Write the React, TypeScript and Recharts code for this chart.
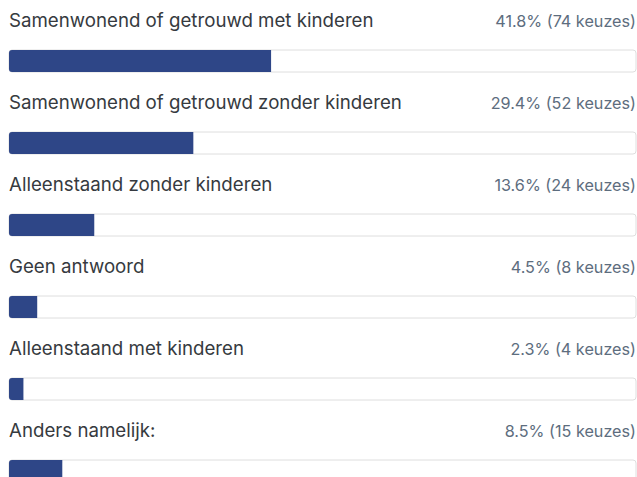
import React from 'react';
import { BarChart, Bar, XAxis, YAxis, LabelList } from 'recharts';

const categories = [
  'Samenwonend of getrouwd met kinderen',
  'Samenwonend of getrouwd zonder kinderen',
  'Alleenstaand zonder kinderen',
  'Geen antwoord',
  'Alleenstaand met kinderen',
  'Anders namelijk:',
];
const percentages = [41.8, 29.4, 13.6, 4.5, 2.3, 8.5];
const counts = [74, 52, 24, 8, 4, 15];

const chartData = categories.map((name, i) => ({
  name,
  pct: percentages[i],
  count: counts[i],
}));

const CHART_W = 637;
const CHART_H = 512;
const margin = { top: 20, right: 1, left: 9, bottom: 0 };
const FONT = 'Inter, "Open Sans", sans-serif';

const RowLabels = (props: any) => {
  const { x, y, index } = props;
  const row = chartData[index];
  const right = CHART_W - margin.right;
  return (
    <g>
      <text x={x} y={y - 23} fill="#363a40" fontSize={18.7} fontFamily={FONT}>
        {row.name}
      </text>
      <text x={right} y={y - 23} textAnchor="end" fill="#5d6d7e" fontSize={16.2} fontFamily={FONT}>
        {`${row.pct}% (${row.count} keuzes)`}
      </text>
    </g>
  );
};

const App: React.FC = () => {
  return (
    <div style={{ position: 'absolute', left: 0, top: 0, width: 637, height: 477, overflow: 'hidden', background: '#fff' }}>
      <BarChart
        width={CHART_W}
        height={CHART_H}
        data={chartData}
        layout="vertical"
        margin={margin}
      >
        <XAxis type="number" domain={[0, 100]} hide />
        <YAxis type="category" dataKey="name" hide />
        <Bar
          dataKey="pct"
          barSize={22}
          fill="#2e4687"
          radius={[3, 0, 0, 3]}
          background={{ fill: '#ffffff', stroke: '#dedede', strokeWidth: 1, radius: 3 }}
          isAnimationActive={false}
        >
          <LabelList dataKey="pct" content={RowLabels} />
        </Bar>
      </BarChart>
    </div>
  );
};

export default App;
